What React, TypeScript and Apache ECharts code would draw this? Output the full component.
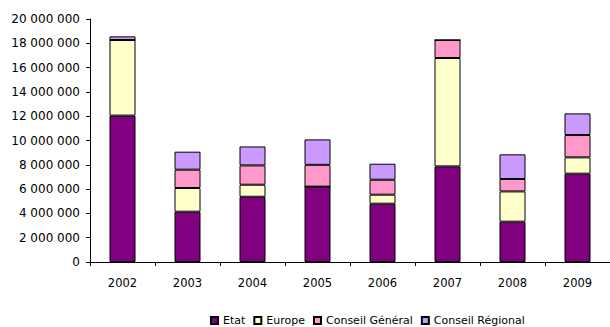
import React, { useEffect, useRef } from "react";
import * as echarts from "echarts";

const years = ["2002", "2003", "2004", "2005", "2006", "2007", "2008", "2009"];
const etat = [12050000, 4140000, 5370000, 6200000, 4800000, 7870000, 3320000, 7270000];
const europe = [6220000, 1950000, 990000, 0, 740000, 8920000, 2490000, 1340000];
const conseilGeneral = [0, 1510000, 1590000, 1800000, 1230000, 1480000, 1020000, 1840000];
const conseilRegional = [300000, 1480000, 1560000, 2090000, 1320000, 0, 2030000, 1780000];

const seriesDefs = [
  { name: "Etat", data: etat, color: "#800080" },
  { name: "Europe", data: europe, color: "#FFFFCC" },
  { name: "Conseil Général", data: conseilGeneral, color: "#FF99CC" },
  { name: "Conseil Régional", data: conseilRegional, color: "#CC99FF" },
];

const FONT = "DejaVu Sans";

function formatThousands(v: number): string {
  return String(Math.round(v)).replace(/\B(?=(\d{3})+(?!\d))/g, " ");
}

export default function App() {
  const ref = useRef<HTMLDivElement>(null);

  useEffect(() => {
    if (!ref.current) return;
    const chart = echarts.init(ref.current, undefined, { renderer: "svg" });
    chart.setOption({
      animation: false,
      backgroundColor: "#ffffff",
      grid: { left: 90, right: 0, top: 19, bottom: 65 },
      legend: {
        left: 210,
        bottom: 0,
        padding: [0, 0, 0, 0],
        itemWidth: 7,
        itemHeight: 7,
        itemGap: 8,
        icon: "rect",
        textStyle: { fontFamily: FONT, fontSize: 11, color: "#000", lineHeight: 13 },
        data: seriesDefs.map((s) => s.name),
      },
      xAxis: {
        type: "category",
        data: years,
        axisLine: { lineStyle: { color: "#000", width: 1 } },
        axisTick: { show: true, length: 4, alignWithLabel: false, lineStyle: { color: "#000" } },
        axisLabel: { fontFamily: FONT, fontSize: 11.5, color: "#000", margin: 15 },
      },
      yAxis: {
        type: "value",
        min: 0,
        max: 20000000,
        interval: 2000000,
        splitLine: { show: false },
        axisLine: { show: true, lineStyle: { color: "#000", width: 1 } },
        axisTick: { show: true, length: 4, lineStyle: { color: "#000" } },
        axisLabel: {
          fontFamily: FONT,
          fontSize: 12,
          color: "#000",
          margin: 10,
          formatter: (v: number) => formatThousands(v),
        },
      },
      series: seriesDefs.map((s) => ({
        name: s.name,
        type: "bar",
        stack: "total",
        barWidth: "40%",
        data: s.data,
        itemStyle: { color: s.color, borderColor: "#000", borderWidth: 1 },
      })),
    });
    return () => chart.dispose();
  }, []);

  return (
    <div
      ref={ref}
      style={{ position: "absolute", left: 0, top: 0, width: 610, height: 327 }}
    />
  );
}
